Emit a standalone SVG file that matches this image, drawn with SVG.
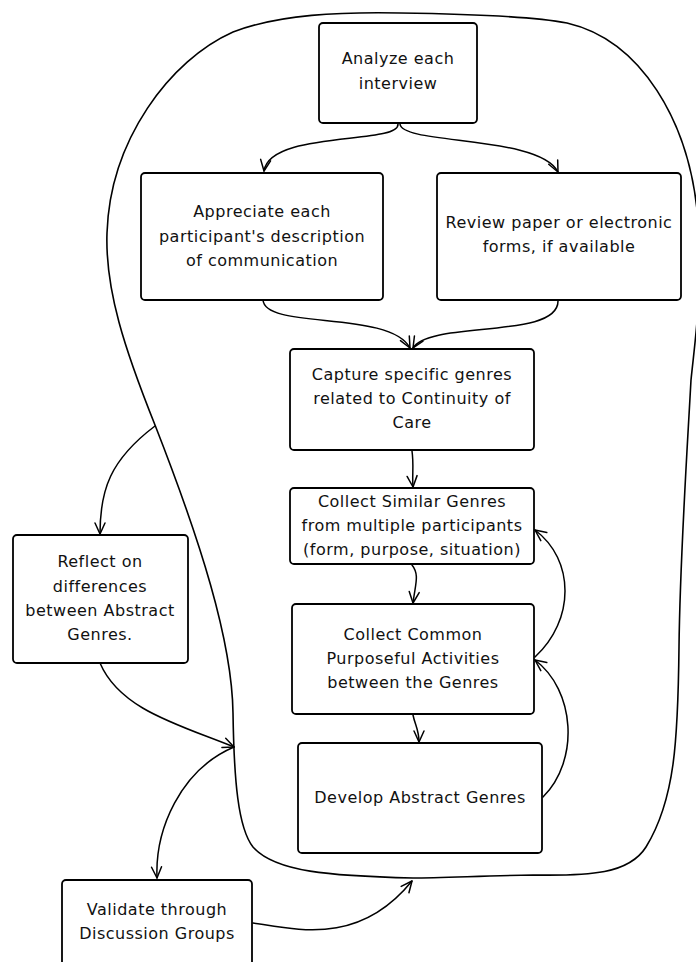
<svg xmlns="http://www.w3.org/2000/svg" width="696" height="962" viewBox="0 0 696 962">
<style>
.box{fill:#fff;stroke:#000;stroke-width:1.8;stroke-linejoin:round}
.lbl{font-family:"DejaVu Sans","Liberation Sans",sans-serif;font-size:16px;letter-spacing:0.5px;fill:#111;text-anchor:middle}
.edge{fill:none;stroke:#000;stroke-width:1.5;stroke-linecap:round}
.loop{fill:none;stroke:#000;stroke-width:1.6}
</style>
<defs>
<marker id="arr" markerUnits="userSpaceOnUse" markerWidth="16" markerHeight="16" refX="0" refY="0" viewBox="-12 -8 14 16" orient="auto">
<path d="M-11,-5 L0,0 L-11,5" fill="none" stroke="#000" stroke-width="1.5" stroke-linecap="round" stroke-linejoin="round"/>
</marker>
</defs>
<path id="loop" class="loop" d="M413 878 C330 876,275 872,253 847 C238 828,234 780,233 713 C232 640,200 540,155 425 C125 350,105 290,107 233 C110 140,170 60,233 32 C280 14,340 12,400 13 C470 14,530 16,567 23 C640 40,690 120,698 220 C703 290,695 340,691 380 C686 470,680 560,679 647 C678 740,675 800,646 847 C629 874,590 876,533 875 C480 876,440 878,413 878 Z"/>
<g id="connectors">
<path class="edge" marker-end="url(#arr)" d="M398 124 C400 145,270 130,264 171"/>
<path class="edge" marker-end="url(#arr)" d="M400 124 C402 145,540 135,558 172"/>
<path class="edge" marker-end="url(#arr)" d="M263 300 C265 330,390 310,410 348"/>
<path class="edge" marker-end="url(#arr)" d="M558 300 C560 340,430 320,413 348"/>
<path class="edge" marker-end="url(#arr)" d="M412 451 C414 465,412 475,413 487"/>
<path class="edge" marker-end="url(#arr)" d="M412 565 C420 575,415 585,413 603"/>
<path class="edge" marker-end="url(#arr)" d="M413 715 C415 725,419 730,419 742"/>
<path class="edge" marker-end="url(#arr)" d="M543 797 C580 760,575 690,535 660"/>
<path class="edge" marker-end="url(#arr)" d="M535 657 C575 620,575 560,535 530"/>
<path class="edge" marker-end="url(#arr)" d="M155 426 C110 460,100 490,100 534"/>
<path class="edge" marker-end="url(#arr)" d="M100 663 C120 710,180 725,234 747"/>
<path class="edge" marker-end="url(#arr)" d="M234 747 C180 770,155 830,157 878"/>
<path class="edge" marker-end="url(#arr)" d="M253 923 C300 930,360 945,412 881"/>
</g>
<g id="n1"><rect class="box" x="319" y="23" width="158" height="100" rx="4"/><text class="lbl" x="398" y="64">Analyze each</text><text class="lbl" x="398" y="89">interview</text></g>
<g id="n2"><rect class="box" x="141" y="173" width="242" height="127" rx="4"/><text class="lbl" x="262" y="217">Appreciate each</text><text class="lbl" x="262" y="242">participant's description</text><text class="lbl" x="262" y="266">of communication</text></g>
<g id="n3"><rect class="box" x="437" y="173" width="244" height="127" rx="4"/><text class="lbl" x="559" y="228">Review paper or electronic</text><text class="lbl" x="559" y="252">forms, if available</text></g>
<g id="n4"><rect class="box" x="290" y="349" width="244" height="101" rx="4"/><text class="lbl" x="412" y="380">Capture specific genres</text><text class="lbl" x="412" y="404">related to Continuity of</text><text class="lbl" x="412" y="428">Care</text></g>
<g id="n5"><rect class="box" x="290" y="488" width="244" height="76" rx="4"/><text class="lbl" x="412" y="507">Collect Similar Genres</text><text class="lbl" x="412" y="531">from multiple participants</text><text class="lbl" x="412" y="555">(form, purpose, situation)</text></g>
<g id="n6"><rect class="box" x="292" y="604" width="242" height="110" rx="4"/><text class="lbl" x="413" y="640">Collect Common</text><text class="lbl" x="413" y="664">Purposeful Activities</text><text class="lbl" x="413" y="688">between the Genres</text></g>
<g id="n7"><rect class="box" x="298" y="743" width="244" height="110" rx="4"/><text class="lbl" x="420" y="803">Develop Abstract Genres</text></g>
<g id="n8"><rect class="box" x="13" y="535" width="175" height="128" rx="4"/><text class="lbl" x="100" y="567">Reflect on</text><text class="lbl" x="100" y="592">differences</text><text class="lbl" x="100" y="616">between Abstract</text><text class="lbl" x="100" y="640">Genres.</text></g>
<g id="n9"><rect class="box" x="62" y="880" width="190" height="100" rx="4"/><text class="lbl" x="157" y="915">Validate through</text><text class="lbl" x="157" y="939">Discussion Groups</text></g>
</svg>
